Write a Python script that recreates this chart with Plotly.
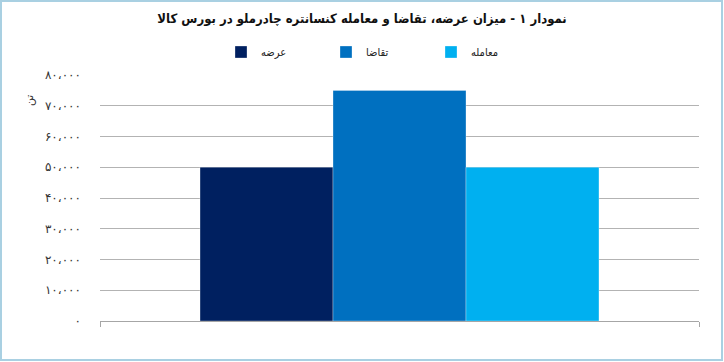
import plotly.graph_objects as go

title_text = "نمودار ۱ - میزان عرضه، تقاضا و معامله کنسانتره چادرملو در بورس کالا"
series_names = ["عرضه", "تقاضا", "معامله"]
series_values = [50000, 75000, 50000]
series_colors = ["#002060", "#0070C0", "#00B0F0"]
category = [""]
tick_vals = [0, 10000, 20000, 30000, 40000, 50000, 60000, 70000, 80000]
tick_text = ["۰", "۱۰،۰۰۰", "۲۰،۰۰۰", "۳۰،۰۰۰", "۴۰،۰۰۰", "۵۰،۰۰۰", "۶۰،۰۰۰", "۷۰،۰۰۰", "۸۰،۰۰۰"]
unit_label = "تن"

W, H = 724, 362
L, R, T, B = 100, 25, 75, 41
pw, ph = W - L - R, H - T - B

fig = go.Figure()
for name, val, col in zip(series_names, series_values, series_colors):
    fig.add_trace(go.Bar(x=category, y=[val], name=name,
                         marker=dict(color=col, line=dict(width=0.6, color="rgba(255,255,255,0.5)"))))

def px(x):
    return (x - L) / pw

def py(y):
    return (H - B - y) / ph

fig.update_layout(
    width=W, height=H,
    margin=dict(l=L, r=R, t=T, b=B, autoexpand=False),
    paper_bgcolor="white", plot_bgcolor="white",
    barmode="group", bargap=0.334, bargroupgap=0,
    font=dict(family="DejaVu Sans", color="#222"),
    title=dict(text="<b>" + title_text + "</b>", x=0.5, xref="container", xanchor="center",
               y=1 - 18 / H, yref="container", yanchor="middle",
               font=dict(size=13, color="#111", family="DejaVu Sans Condensed")),
    showlegend=True,
    legend=dict(orientation="h", x=px(221), xanchor="left", y=py(52), yanchor="middle",
                entrywidth=60, entrywidthmode="pixels",
                font=dict(size=11, color="#222", family="DejaVu Sans Condensed"),
                bgcolor="rgba(0,0,0,0)",
                traceorder="normal", itemclick=False),
    xaxis=dict(showgrid=False, showline=True, linecolor="#a6a6a6", linewidth=1,
               tickson="boundaries", ticks="outside", ticklen=5, tickcolor="#a6a6a6",
               showticklabels=False, fixedrange=True),
    yaxis=dict(range=[0, 80000], tickvals=tick_vals, ticktext=tick_text,
               showgrid=True, gridcolor="#b3b3b3", gridwidth=1,
               zeroline=False, showline=False, ticks="",
               ticklabelstandoff=18,
               tickfont=dict(size=12, color="#333", family="DejaVu Sans")),
    annotations=[dict(text=unit_label, xref="paper", yref="paper", x=px(21), y=py(93),
                      showarrow=False, textangle=-90, font=dict(size=11, color="#333"))],
    shapes=[dict(type="rect", xref="paper", yref="paper",
                 x0=px(1), x1=px(722), y0=py(360), y1=py(1),
                 line=dict(color="#a9d0e2", width=2), fillcolor="rgba(0,0,0,0)", layer="below")],
)

fig.write_html("out.html", config={"displayModeBar": False},
               post_script="document.body.style.margin='0';")
